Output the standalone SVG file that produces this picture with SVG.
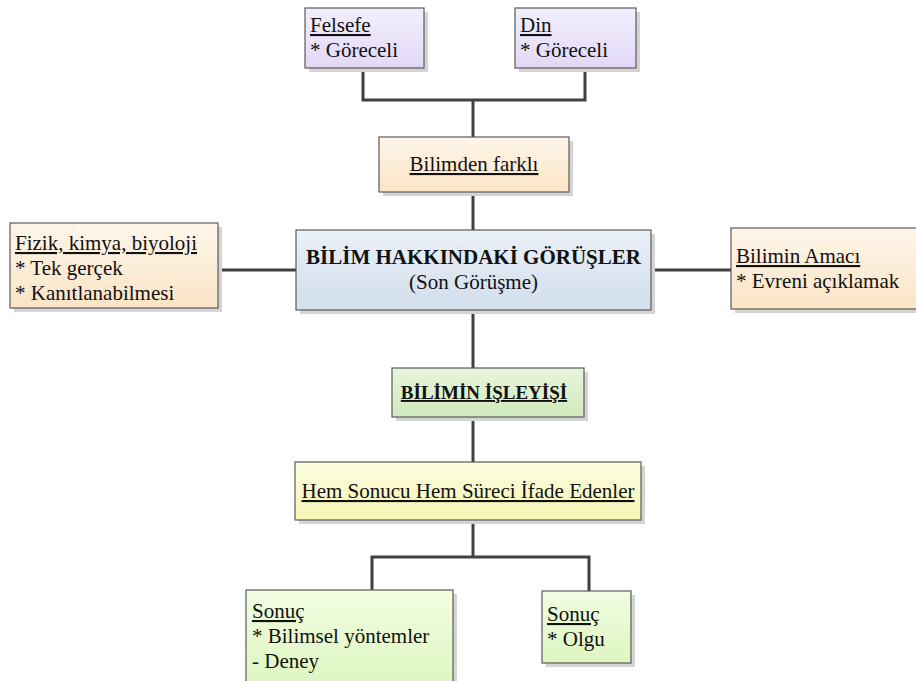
<svg xmlns="http://www.w3.org/2000/svg" width="916" height="681" viewBox="0 0 916 681">
  <defs>
    <linearGradient id="gPurple" x1="0" y1="0" x2="0" y2="1">
      <stop offset="0" stop-color="#f3effd"/>
      <stop offset="1" stop-color="#e2d8f6"/>
    </linearGradient>
    <linearGradient id="gPeach" x1="0" y1="0" x2="0" y2="1">
      <stop offset="0" stop-color="#fef6ea"/>
      <stop offset="1" stop-color="#fbe4c6"/>
    </linearGradient>
    <linearGradient id="gBlue" x1="0" y1="0" x2="0" y2="1">
      <stop offset="0" stop-color="#eaf0f7"/>
      <stop offset="1" stop-color="#d2deec"/>
    </linearGradient>
    <linearGradient id="gGreen" x1="0" y1="0" x2="0" y2="1">
      <stop offset="0" stop-color="#e8f5dc"/>
      <stop offset="1" stop-color="#d0eabd"/>
    </linearGradient>
    <linearGradient id="gYellow" x1="0" y1="0" x2="0" y2="1">
      <stop offset="0" stop-color="#fdfde0"/>
      <stop offset="1" stop-color="#f5f5b4"/>
    </linearGradient>
    <linearGradient id="gLime" x1="0" y1="0" x2="0" y2="1">
      <stop offset="0" stop-color="#f2fde2"/>
      <stop offset="1" stop-color="#ddf6bf"/>
    </linearGradient>
  </defs>
  <style>
    .shadow { fill: #d4d4d4; }
    .box { stroke: #5a5a5a; stroke-width: 1.2; }
    .purple { fill: url(#gPurple); }
    .peach { fill: url(#gPeach); }
    .blue { fill: url(#gBlue); }
    .green { fill: url(#gGreen); }
    .yellow { fill: url(#gYellow); }
    .lime { fill: url(#gLime); }
    .t { font-family: "Liberation Serif", "Times New Roman", serif; font-size: 21px; fill: #111; }
    .b { font-weight: bold; }
    .u { text-decoration: underline; }
    .mid { text-anchor: middle; }
    .conn { fill: none; stroke: #404040; stroke-width: 3; }
  </style>

  <rect width="916" height="681" fill="#ffffff"/>

  <!-- connectors -->
  <g id="connectors">
    <path class="conn" d="M363,68 V100 H585 V68"/>
    <path class="conn" d="M473,100 V137"/>
    <path class="conn" d="M473,192 V230"/>
    <path class="conn" d="M218,270 H296"/>
    <path class="conn" d="M651,270 H731"/>
    <path class="conn" d="M473,310 V368"/>
    <path class="conn" d="M473,417 V462"/>
    <path class="conn" d="M473,520 V557"/>
    <path class="conn" d="M372,590 V557 H589 V591"/>
  </g>

  <g id="felsefe">
    <rect class="shadow" x="309" y="12" width="119" height="60"/>
    <rect class="box purple" x="305" y="8" width="119" height="60"/>
    <text class="t u" x="310" y="32">Felsefe</text>
    <text class="t" x="310" y="57">* Göreceli</text>
  </g>

  <g id="din">
    <rect class="shadow" x="519" y="12" width="121" height="60"/>
    <rect class="box purple" x="515" y="8" width="121" height="60"/>
    <text class="t u" x="520" y="32">Din</text>
    <text class="t" x="520" y="57">* Göreceli</text>
  </g>

  <g id="bilimden-farkli">
    <rect class="shadow" x="383" y="141" width="190" height="55"/>
    <rect class="box peach" x="379" y="137" width="190" height="55"/>
    <text class="t mid u" x="474" y="171">Bilimden farklı</text>
  </g>

  <g id="fizik">
    <rect class="shadow" x="14" y="227" width="208" height="85"/>
    <rect class="box peach" x="10" y="223" width="208" height="85"/>
    <text class="t u" x="15" y="250">Fizik, kimya, biyoloji</text>
    <text class="t" x="15" y="275">* Tek gerçek</text>
    <text class="t" x="15" y="300">* Kanıtlanabilmesi</text>
  </g>

  <g id="bilim-hakkindaki">
    <rect class="shadow" x="300" y="234" width="355" height="80"/>
    <rect class="box blue" x="296" y="230" width="355" height="80"/>
    <text class="t mid b" x="473.5" y="264">BİLİM HAKKINDAKİ GÖRÜŞLER</text>
    <text class="t mid" x="473.5" y="289">(Son Görüşme)</text>
  </g>

  <g id="bilimin-amaci">
    <rect class="shadow" x="735" y="232" width="190" height="81"/>
    <rect class="box peach" x="731" y="228" width="190" height="81"/>
    <text class="t u" x="736" y="263">Bilimin Amacı</text>
    <text class="t" x="736" y="288">* Evreni açıklamak</text>
  </g>

  <g id="bilimin-isleyisi">
    <rect class="shadow" x="396" y="372" width="192" height="49"/>
    <rect class="box green" x="392" y="368" width="192" height="49"/>
    <text class="t mid b u" x="484" y="399" font-size="19" style="font-size:19px">BİLİMİN İŞLEYİŞİ</text>
  </g>

  <g id="hem-sonucu">
    <rect class="shadow" x="299" y="466" width="346" height="58"/>
    <rect class="box yellow" x="295" y="462" width="346" height="58"/>
    <text class="t mid u" x="468" y="498">Hem Sonucu Hem Süreci İfade Edenler</text>
  </g>

  <g id="sonuc-yontem">
    <rect class="shadow" x="250" y="594" width="207" height="100"/>
    <rect class="box lime" x="246" y="590" width="207" height="100"/>
    <text class="t u" x="252" y="618">Sonuç</text>
    <text class="t" x="252" y="643">* Bilimsel yöntemler</text>
    <text class="t" x="252" y="668">- Deney</text>
  </g>

  <g id="sonuc-olgu">
    <rect class="shadow" x="546" y="595" width="89" height="72"/>
    <rect class="box lime" x="542" y="591" width="89" height="72"/>
    <text class="t u" x="547" y="621">Sonuç</text>
    <text class="t" x="547" y="646">* Olgu</text>
  </g>
</svg>
